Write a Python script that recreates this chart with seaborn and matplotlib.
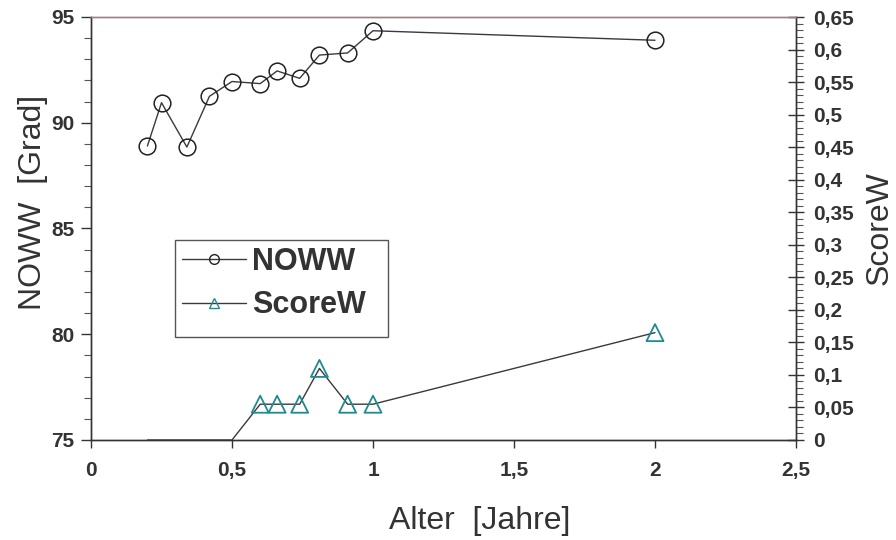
import matplotlib
matplotlib.use("Agg")
import matplotlib.pyplot as plt
import matplotlib.ticker as mticker
from matplotlib.lines import Line2D
from matplotlib.patches import Rectangle
import seaborn as sns
import pandas as pd

# ---- data ----
alter_noww = [0.2, 0.25, 0.34, 0.42, 0.5, 0.6, 0.66, 0.74, 0.81, 0.91, 1.0, 2.0]
noww = [88.9, 90.95, 88.85, 91.25, 91.95, 91.85, 92.45, 92.1, 93.2, 93.3, 94.35, 93.9]

alter_score = [0.2, 0.25, 0.34, 0.42, 0.5, 0.6, 0.66, 0.74, 0.81, 0.91, 1.0, 2.0]
scorew = [0.0, 0.0, 0.0, 0.0, 0.0, 0.055, 0.055, 0.055, 0.11, 0.055, 0.055, 0.165]

x_ticks = [0, 0.5, 1.0, 1.5, 2.0, 2.5]
left_ticks = [75, 80, 85, 90, 95]
right_ticks = [0, 0.05, 0.1, 0.15, 0.2, 0.25, 0.3, 0.35, 0.4, 0.45, 0.5, 0.55, 0.6, 0.65]

series_names = ["NOWW", "ScoreW"]
x_label = "Alter  [Jahre]"
left_label = "NOWW  [Grad]"
right_label = "ScoreW"

teal = "#1f8a8f"
line_col = "#3a3a3a"
text_col = "#333333"

sns.set_style("white")
plt.rcParams["font.family"] = ["Liberation Sans", "DejaVu Sans"]

fig = plt.figure(figsize=(8.96, 5.4), dpi=100)
ax = fig.add_axes([91 / 896, 1 - 440 / 540, 705 / 896, 423 / 540])
ax2 = ax.twinx()

df_n = pd.DataFrame({"x": alter_noww, "y": noww})
df_s = pd.DataFrame({"x": alter_score, "y": scorew})
df_sm = df_s[df_s["y"] > 0]

sns.lineplot(data=df_n, x="x", y="y", ax=ax, color=line_col, linewidth=1.0,
             marker="o", markersize=12, markerfacecolor="none",
             markeredgecolor="#222222", markeredgewidth=1.1, sort=False)
sns.lineplot(data=df_s, x="x", y="y", ax=ax2, color=line_col, linewidth=1.0,
             sort=False)
sns.scatterplot(data=df_sm, x="x", y="y", ax=ax2, marker="^", s=150,
                facecolor="none", edgecolor=teal, linewidth=1.3, zorder=5)

ax.set_xlim(0, 2.5)
ax.set_ylim(75, 95)
ax2.set_ylim(0, 0.65)

fmt = mticker.FuncFormatter(lambda v, p: f"{v:g}".replace(".", ","))
ax.set_xticks(x_ticks)
ax.set_yticks(left_ticks)
ax2.set_yticks(right_ticks)
ax.xaxis.set_major_formatter(fmt)
ax.yaxis.set_major_formatter(fmt)
ax2.yaxis.set_major_formatter(fmt)
ax.yaxis.set_minor_locator(mticker.MultipleLocator(1))
ax2.yaxis.set_minor_locator(mticker.MultipleLocator(0.01))

for a in (ax, ax2):
    a.tick_params(which="major", labelsize=15, width=1, color="#333333")
    a.tick_params(which="minor", width=0.8, color="#555555")
    for lab in a.get_xticklabels() + a.get_yticklabels():
        lab.set_fontweight("bold")
        lab.set_color(text_col)

ax.tick_params(axis="x", which="major", direction="out", length=6, pad=9, bottom=True)
ax.tick_params(axis="y", which="major", direction="out", length=7, pad=5, left=True)
ax.tick_params(axis="y", which="minor", direction="out", length=5, left=True)
ax2.tick_params(axis="y", which="major", direction="inout", length=12, pad=6, right=True)
ax2.tick_params(axis="y", which="minor", direction="out", length=5, right=True)

ax.set_xlabel(x_label, fontsize=23, color=text_col, labelpad=19)
ax.xaxis.label.set_x((480 - 91) / 705)
ax.set_ylabel(left_label, fontsize=23, color=text_col, labelpad=2)
ax.yaxis.label.set_y((440 - 202) / 423)
ax2.set_ylabel(right_label, fontsize=23, color=text_col, labelpad=8, rotation=90)

for a in (ax, ax2):
    for s in ["left", "right", "bottom"]:
        a.spines[s].set_color("#333333")
        a.spines[s].set_linewidth(1.0)
    a.spines["top"].set_color("#9a8080")
    a.spines["top"].set_linewidth(1.0)

# legend frame drawn as a rectangle (pixel box 175..388 x 240..337)
box_x0, box_y0 = (175 - 91) / 705, (440 - 337) / 423
box_w, box_h = (388 - 175) / 705, (337 - 240) / 423
ax2.add_patch(Rectangle((box_x0, box_y0), box_w, box_h, transform=ax.transAxes,
                        facecolor="white", edgecolor="#555555", linewidth=1.0,
                        zorder=8, clip_on=False))

handles = [
    Line2D([], [], color=line_col, linewidth=1.0, marker="o", markersize=7,
           markerfacecolor="none", markeredgecolor="#222222"),
    Line2D([], [], color=line_col, linewidth=1.0, marker="^", markersize=7,
           markerfacecolor="none", markeredgecolor=teal),
]
leg = ax2.legend(handles, series_names, loc="upper left",
                 bbox_to_anchor=(box_x0, box_y0 + box_h), borderaxespad=0,
                 bbox_transform=ax.transAxes,
                 frameon=False, handlelength=2.1, handletextpad=0.2,
                 borderpad=0.22, labelspacing=0.45,
                 prop={"weight": "bold", "size": 22})
leg.set_zorder(9)
for t in leg.get_texts():
    t.set_color(text_col)

fig.savefig("out.png", dpi=100)
